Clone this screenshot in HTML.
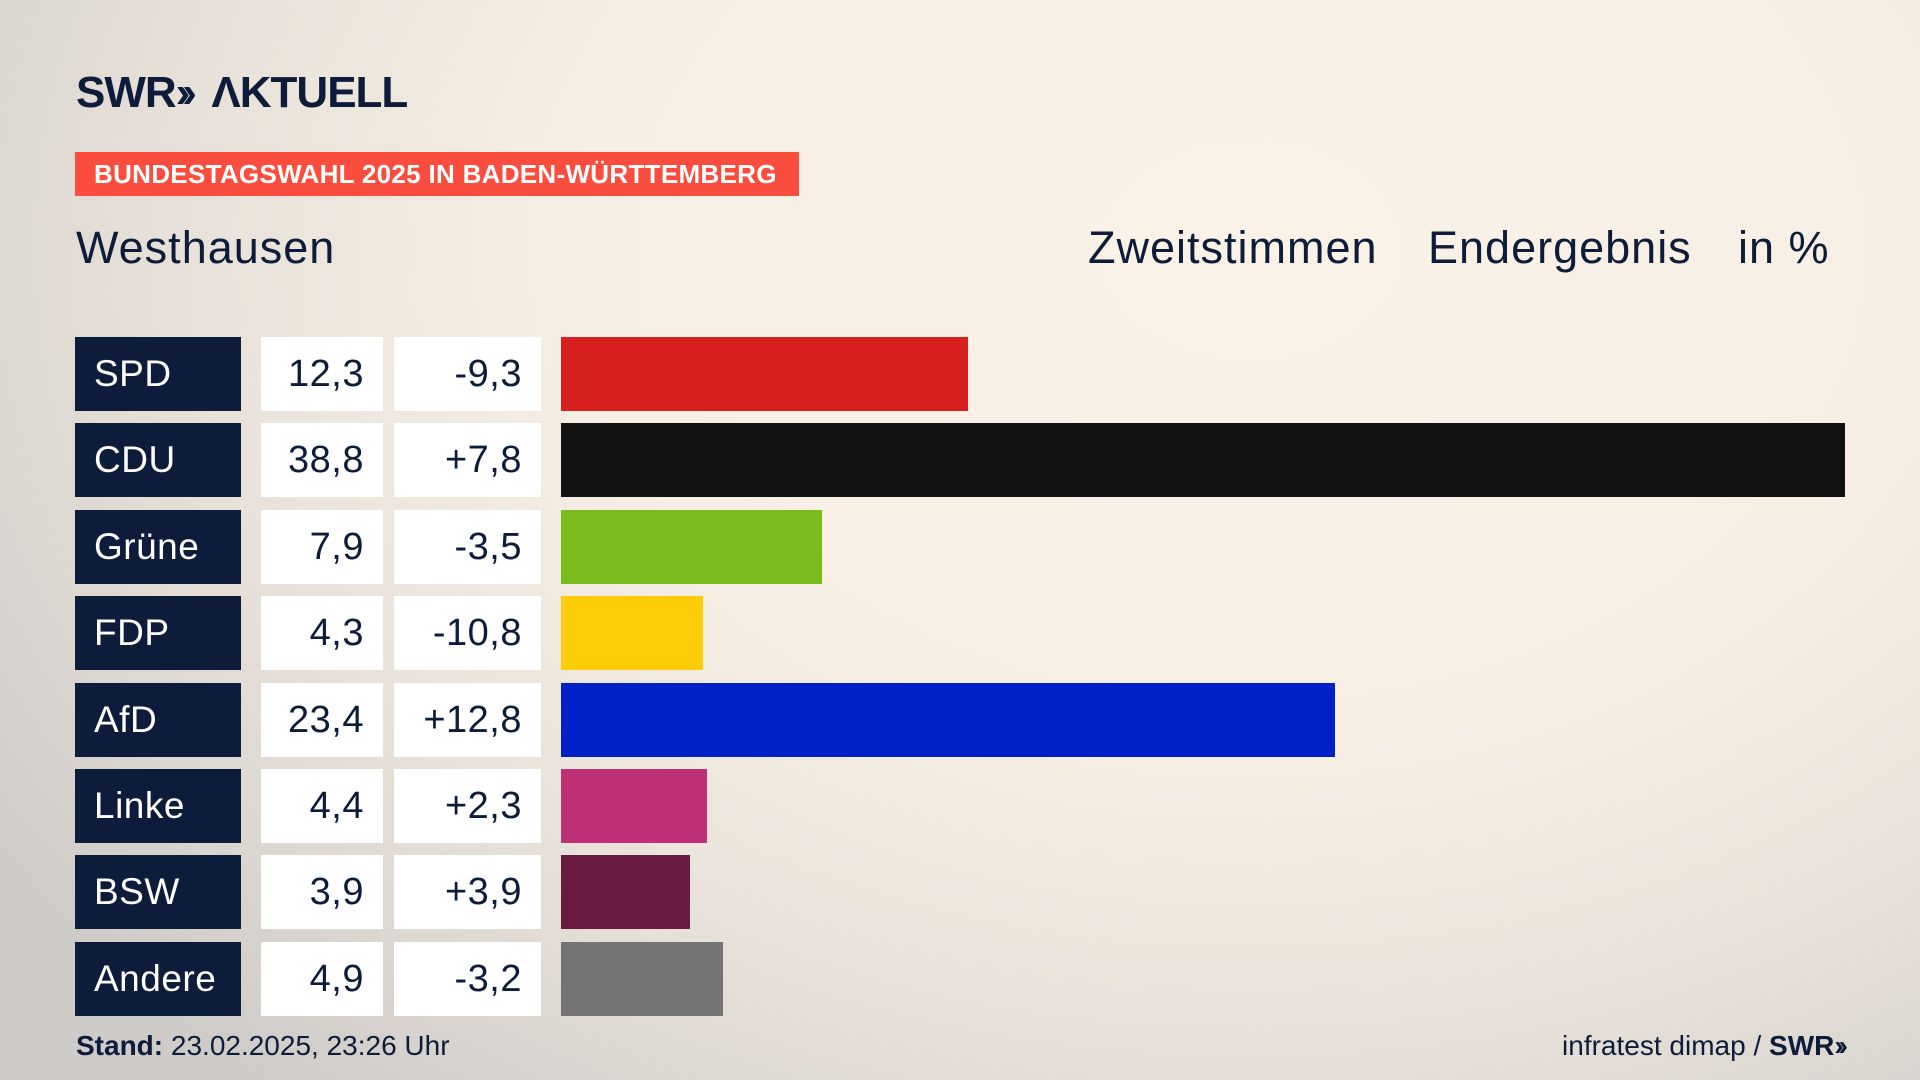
<!DOCTYPE html>
<html><head><meta charset="utf-8"><style>
body{margin:0;width:1920px;height:1080px;overflow:hidden;font-family:"Liberation Sans","DejaVu Sans",sans-serif;}
#bg{position:absolute;left:0;top:0;width:1920px;height:1080px;background:radial-gradient(ellipse 1500px 1100px at 1250px 250px,#faf2e7 0%,#f7efe4 45%,#e9e2da 70%,#cfcbc8 100%);}
.abs{position:absolute;}
.name{background:#0c1c3a;color:#fff;font-size:37px;line-height:74px;padding-left:19px;box-sizing:border-box;letter-spacing:0.5px;}
.val{background:#fff;color:#0c1c3a;font-size:38px;line-height:74px;text-align:right;padding-right:19px;box-sizing:border-box;letter-spacing:0.5px;}
.hdr{color:#0c1c3a;font-size:45px;top:222px;letter-spacing:1px;}
</style></head><body>
<div id="bg"></div>
<div class="abs" style="left:76px;top:68px;font-size:44px;font-weight:bold;color:#0c1c3a;letter-spacing:-1px;">SWR<span style="letter-spacing:-8px">››</span>&nbsp; ΛKTUELL</div>
<div class="abs" style="left:75px;top:152px;width:724px;height:44px;background:#fb4d3d;color:#fff;font-weight:bold;font-size:26px;line-height:44px;padding-left:19px;box-sizing:border-box;letter-spacing:0.3px;">BUNDESTAGSWAHL 2025 IN BADEN-WÜRTTEMBERG</div>
<div class="abs hdr" style="left:76px;">Westhausen</div>
<div class="abs hdr" style="left:1088px;">Zweitstimmen</div>
<div class="abs hdr" style="left:1428px;">Endergebnis</div>
<div class="abs hdr" style="left:1738px;">in %</div>
<div id="chart"></div>
<div class="abs" style="left:76px;top:1030px;font-size:28px;color:#0c1c3a;"><b>Stand:</b> 23.02.2025, 23:26 Uhr</div>
<div class="abs" style="right:77px;top:1030px;font-size:28px;color:#0c1c3a;">infratest dimap / <b>SWR<span style="letter-spacing:-5px">››</span></b></div>
<script>
const parties=["SPD","CDU","Grüne","FDP","AfD","Linke","BSW","Andere"];
const values=[12.3,38.8,7.9,4.3,23.4,4.4,3.9,4.9];
const diffs=["-9,3","+7,8","-3,5","-10,8","+12,8","+2,3","+3,9","-3,2"];
const colors=["#d71f20","#121212","#79bc1b","#fecd0a","#0021c8","#bd3075","#6a1940","#747474"];
const x=v=>561+v*33.09;
const y=i=>337+i*86.4;
const c=document.getElementById('chart');
function mk(cls,l,t,w,txt,name){const d=document.createElement('div');d.className='abs '+cls;d.style.left=l+'px';d.style.top=t+'px';d.style.width=w+'px';d.style.height='74px';d.textContent=txt;


c.appendChild(d);return d;}
parties.forEach((p,i)=>{
 mk('name',75,y(i),166,p,'party-label-'+p.toLowerCase());
 mk('val',261,y(i),122,values[i].toFixed(1).replace('.',','),'share-'+p.toLowerCase());
 mk('val',394,y(i),147,diffs[i],'change-'+p.toLowerCase());
 const b=mk('',561,y(i),x(values[i])-x(0),'','bar-'+p.toLowerCase());
 b.style.background=colors[i];
});
</script>
</body></html>
